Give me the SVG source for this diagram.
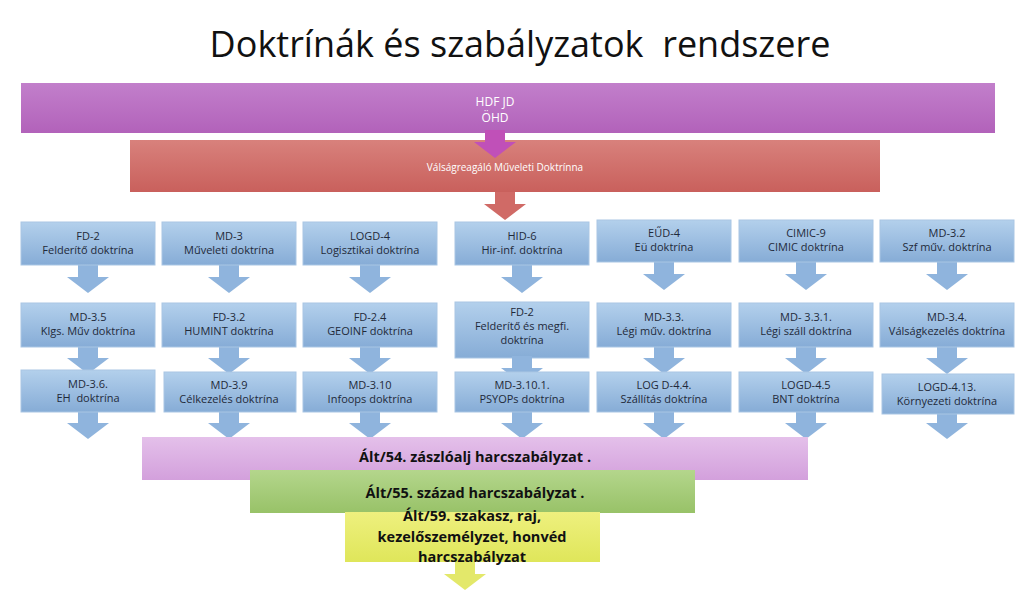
<svg xmlns="http://www.w3.org/2000/svg" width="1024" height="598" viewBox="0 0 1024 598">
<defs>
<linearGradient id="gb" x1="0" y1="0" x2="0" y2="1"><stop offset="0" stop-color="#b3d0ec"/><stop offset="1" stop-color="#86acd6"/></linearGradient>
<linearGradient id="gp" x1="0" y1="0" x2="0" y2="1"><stop offset="0" stop-color="#c27fcb"/><stop offset="1" stop-color="#b262ba"/></linearGradient>
<linearGradient id="gr" x1="0" y1="0" x2="0" y2="1"><stop offset="0" stop-color="#d8817c"/><stop offset="1" stop-color="#c9605c"/></linearGradient>
<linearGradient id="gl" x1="0" y1="0" x2="0" y2="1"><stop offset="0" stop-color="#e4c0ea"/><stop offset="1" stop-color="#d3a0dc"/></linearGradient>
<linearGradient id="gg" x1="0" y1="0" x2="0" y2="1"><stop offset="0" stop-color="#b4d68c"/><stop offset="1" stop-color="#98c268"/></linearGradient>
<linearGradient id="gy" x1="0" y1="0" x2="0" y2="1"><stop offset="0" stop-color="#eef07e"/><stop offset="1" stop-color="#dfe65a"/></linearGradient>
<path id="ar" d="M-10,0 h20 v12 h11 l-21,16 l-21,-16 h11z"/>
</defs>
<style>
.t{font-family:"Open Sans","Liberation Sans",sans-serif;text-anchor:middle}
.bx{font-size:11px;fill:#1f2a3a}
.box{fill:url(#gb);stroke:#a9c6e4;stroke-width:1}
.ab{fill:#8fb4dd}
.bb{font-size:14.5px;font-weight:bold;fill:#111}
</style>
<text class="t" x="520" y="57" font-size="36" fill="#111" xml:space="preserve">Doktrínák és szabályzatok  rendszere</text>
<g id="top"><rect x="21" y="83" width="974" height="50" fill="url(#gp)"/>
<text class="t" x="495" y="106" font-size="12" fill="#fff">HDF JD</text><text class="t" x="495" y="122" font-size="12" fill="#fff">ÖHD</text></g>
<g id="mid"><rect x="130" y="140" width="750" height="52" fill="url(#gr)"/>
<text class="t" x="505" y="171" font-size="10" fill="#fff">Válságreagáló Műveleti Doktrínna</text></g>
<g id="connectors">
<use href="#ar" x="495" y="130" fill="#c050b8"/>
<use href="#ar" x="505" y="192" fill="#d06a66"/>
<g class="ab">
<use href="#ar" x="88" y="265"/><use href="#ar" x="229" y="265"/><use href="#ar" x="370" y="265"/><use href="#ar" x="522" y="265"/><use href="#ar" x="664" y="262"/><use href="#ar" x="806" y="262"/><use href="#ar" x="947" y="262"/>
<use href="#ar" x="88" y="346"/><use href="#ar" x="229" y="346"/><use href="#ar" x="370" y="346"/><use href="#ar" x="664" y="346"/><use href="#ar" x="806" y="346"/><use href="#ar" x="947" y="346"/>
<use href="#ar" x="88" y="411"/><use href="#ar" x="229" y="411"/><use href="#ar" x="370" y="411"/><use href="#ar" x="522" y="411"/><use href="#ar" x="664" y="411"/><use href="#ar" x="806" y="411"/><use href="#ar" x="947" y="411"/>
</g>
</g>
<g id="c1"><rect class="box" x="21" y="222" width="134" height="43"/><text class="t bx" x="88" y="240">FD-2</text><text class="t bx" x="88" y="254">Felderítő doktrína</text></g>
<g id="c2"><rect class="box" x="162" y="222" width="134" height="43"/><text class="t bx" x="229" y="240">MD-3</text><text class="t bx" x="229" y="254">Műveleti doktrína</text></g>
<g id="c3"><rect class="box" x="303" y="222" width="134" height="43"/><text class="t bx" x="370" y="240">LOGD-4</text><text class="t bx" x="370" y="254">Logisztikai doktrína</text></g>
<g id="c4"><rect class="box" x="455" y="222" width="134" height="43"/><text class="t bx" x="522" y="240">HID-6</text><text class="t bx" x="522" y="254">Hir-inf. doktrína</text></g>
<g id="c5"><rect class="box" x="597" y="220" width="134" height="42"/><text class="t bx" x="664" y="237">EŰD-4</text><text class="t bx" x="664" y="251">Eü doktrína</text></g>
<g id="c6"><rect class="box" x="739" y="220" width="134" height="42"/><text class="t bx" x="806" y="237">CIMIC-9</text><text class="t bx" x="806" y="251">CIMIC doktrína</text></g>
<g id="c7"><rect class="box" x="880" y="220" width="134" height="42"/><text class="t bx" x="947" y="237">MD-3.2</text><text class="t bx" x="947" y="251">Szf műv. doktrína</text></g>
<g id="r2c1"><rect class="box" x="21" y="303" width="134" height="44"/><text class="t bx" x="88" y="321">MD-3.5</text><text class="t bx" x="88" y="335">Klgs. Műv doktrína</text></g>
<g id="r2c2"><rect class="box" x="162" y="303" width="134" height="44"/><text class="t bx" x="229" y="321">FD-3.2</text><text class="t bx" x="229" y="335">HUMINT doktrína</text></g>
<g id="r2c3"><rect class="box" x="303" y="303" width="134" height="44"/><text class="t bx" x="370" y="321">FD-2.4</text><text class="t bx" x="370" y="335">GEOINF doktrína</text></g>
<g id="r2c4"><rect class="box" x="455" y="302" width="134" height="56"/><text class="t bx" x="522" y="316">FD-2</text><text class="t bx" x="522" y="330">Felderítő és megfi.</text><text class="t bx" x="522" y="344">doktrína</text></g>
<g id="r2c5"><rect class="box" x="597" y="303" width="134" height="44"/><text class="t bx" x="664" y="321">MD-3.3.</text><text class="t bx" x="664" y="335">Légi műv. doktrína</text></g>
<g id="r2c6"><rect class="box" x="739" y="303" width="134" height="44"/><text class="t bx" x="806" y="321">MD- 3.3.1.</text><text class="t bx" x="806" y="335">Légi száll doktrína</text></g>
<g id="r2c7"><rect class="box" x="880" y="303" width="134" height="44"/><text class="t bx" x="947" y="321">MD-3.4.</text><text class="t bx" x="947" y="335">Válságkezelés doktrína</text></g>
<use href="#ar" x="522" y="356" class="ab" transform="translate(0,0)"/>
<g id="r3c1"><rect class="box" x="21" y="370" width="134" height="42"/><text class="t bx" x="88" y="388">MD-3.6.</text><text class="t bx" x="88" y="402" xml:space="preserve">EH  doktrína</text></g>
<g id="r3c2"><rect class="box" x="164" y="372" width="132" height="40"/><text class="t bx" x="229" y="389">MD-3.9</text><text class="t bx" x="229" y="403">Célkezelés doktrína</text></g>
<g id="r3c3"><rect class="box" x="303" y="372" width="134" height="40"/><text class="t bx" x="370" y="389">MD-3.10</text><text class="t bx" x="370" y="403">Infoops doktrína</text></g>
<g id="r3c4"><rect class="box" x="455" y="372" width="134" height="40"/><text class="t bx" x="522" y="389">MD-3.10.1.</text><text class="t bx" x="522" y="403">PSYOPs doktrína</text></g>
<g id="r3c5"><rect class="box" x="597" y="372" width="134" height="40"/><text class="t bx" x="664" y="389">LOG D-4.4.</text><text class="t bx" x="664" y="403">Szállítás doktrína</text></g>
<g id="r3c6"><rect class="box" x="739" y="372" width="134" height="40"/><text class="t bx" x="806" y="389">LOGD-4.5</text><text class="t bx" x="806" y="403">BNT doktrína</text></g>
<g id="r3c7"><rect class="box" x="882" y="374" width="132" height="40"/><text class="t bx" x="947" y="391">LOGD-4.13.</text><text class="t bx" x="947" y="405">Környezeti doktrína</text></g>
<g id="b1"><rect x="142" y="437" width="666" height="43" fill="url(#gl)"/><text class="t bb" x="475" y="462">Ált/54. zászlóalj harcszabályzat .</text></g>
<g id="b2"><rect x="250" y="470" width="445" height="43" fill="url(#gg)"/><text class="t bb" x="475" y="498">Ált/55. század harcszabályzat .</text></g>
<g id="b3"><rect x="345" y="512" width="255" height="50" fill="url(#gy)"/><text class="t bb" x="472" y="521">Ált/59. szakasz, raj,</text><text class="t bb" x="472" y="542">kezelőszemélyzet, honvéd</text><text class="t bb" x="472" y="562">harcszabályzat</text></g>
<use href="#ar" x="465" y="562" fill="#e3e86a"/>
</svg>
